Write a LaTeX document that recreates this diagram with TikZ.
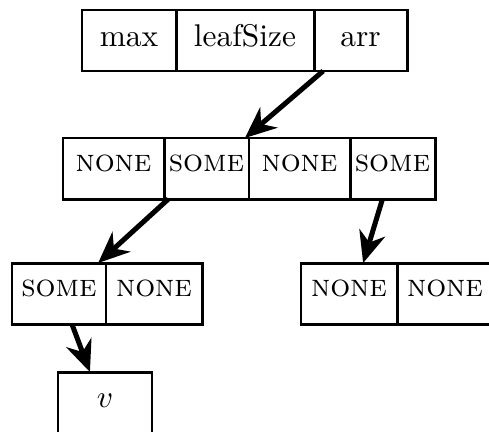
\documentclass[tikz,border=0pt]{standalone}
\usetikzlibrary{arrows.meta}
\begin{document}
\begin{tikzpicture}[x=0.3185pt,y=-0.3185pt,
  cell/.style={draw,line width=0.95pt,rectangle,inner sep=0pt,outer sep=0pt,minimum height=19.43pt,text height=7pt,text depth=3pt},
  sccell/.style={cell,text height=5pt,text depth=3pt},
  ptr/.style={line width=1.6pt,-{Stealth[length=10pt,width=8.5pt,inset=3.2pt]}}]
\useasboundingbox (0,0) rectangle (489,431);
\clip (0,0) rectangle (489,431);
% top record
\node[cell,minimum width=29.94pt] (max) at (129,40.5) {max};
\node[cell,minimum width=43.95pt] (leaf) at (245,40.5) {leafSize};
\node[cell,minimum width=29.62pt] (arr) at (360.5,40.5) {arr};
% middle array
\node[sccell,minimum width=32.17pt] (m1) at (113.5,168.5) {\textsc{none}};
\node[sccell,minimum width=27.07pt] (m2) at (206.5,168.5) {\textsc{some}};
\node[sccell,minimum width=32.17pt] (m3) at (299.5,168.5) {\textsc{none}};
\node[sccell,minimum width=27.07pt] (m4) at (392.5,168.5) {\textsc{some}};
% bottom left array
\node[sccell,minimum width=29.94pt] (bl1) at (59,293.5) {\textsc{some}};
\node[sccell,minimum width=30.58pt] (bl2) at (154,293.5) {\textsc{none}};
% bottom right array
\node[sccell,minimum width=30.58pt] (br1) at (349,293.5) {\textsc{none}};
\node[sccell,minimum width=30.58pt] (br2) at (445,293.5) {\textsc{none}};
% value
\node[cell,minimum width=29.94pt,text height=6.4pt] (v) at (105,402.5) {$v$};
% pointers
\draw[ptr] ([xshift=2.9pt]arr.south west) -- ([xshift=-1.3pt]m2.north east);
\draw[ptr] ([xshift=1.4pt]m2.south west) -- ([xshift=-2.5pt]bl1.north east);
\draw[ptr] ([xshift=-3.2pt]m4.south) -- ([xshift=4.5pt]br1.north);
\draw[ptr] ([xshift=4.1pt]bl1.south) -- ([xshift=-4.8pt]v.north);
\end{tikzpicture}
\end{document}
